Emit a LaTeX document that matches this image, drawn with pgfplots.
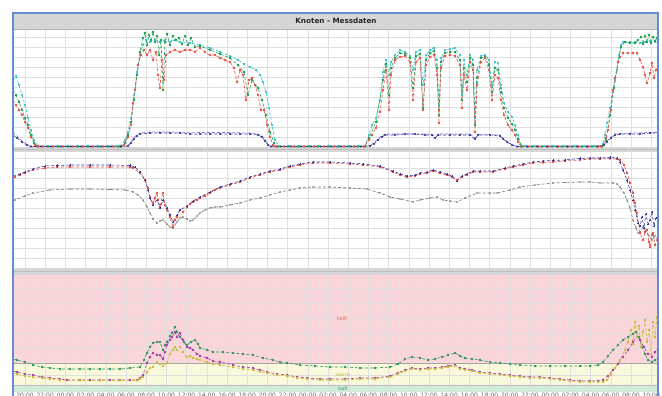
\documentclass[border=0pt]{standalone}
\usepackage{fontspec}
\setmainfont{DejaVu Sans}
\usepackage{pgfplots}
\pgfplotsset{compat=1.18}
\definecolor{cyanS}{RGB}{40,190,200}
\definecolor{redS}{RGB}{232,80,72}
\definecolor{greenS}{RGB}{30,160,80}
\definecolor{navyS}{RGB}{50,50,150}
\definecolor{purpS}{RGB}{150,110,210}
\definecolor{grayS}{RGB}{120,120,120}
\definecolor{tealS}{RGB}{50,150,100}
\definecolor{magS}{RGB}{170,60,170}
\definecolor{oliveS}{RGB}{200,190,60}
\definecolor{pinkB}{RGB}{250,214,218}
\definecolor{yelB}{RGB}{250,249,220}
\definecolor{grnB}{RGB}{208,236,216}
\definecolor{frameB}{RGB}{100,140,210}
\definecolor{barG}{RGB}{214,214,214}
\pgfplotsset{
  panel/.style={scale only axis, width=643pt, anchor=south west,
    xmin=14, xmax=657, ymin=0,
    axis line style={draw=none}, major tick length=0pt,
    xtick={25,45.2,65.4,85.6,105.8,126,146.2,166.4,186.6,206.8,227,247.2,267.4,287.6,307.8,328,348.2,368.4,388.6,408.8,429,449.2,469.4,489.6,509.8,530,550.2,570.4,590.6,610.8,631,651.2},
    xticklabels={}, yticklabels={},
    grid=major, major grid style={black!12, line width=0.5pt}},
  ser/.style={densely dashed, line width=0.6pt, mark=*, mark size=0.85pt, mark options={solid}},
}
\begin{document}
\begin{tikzpicture}[x=1pt,y=1pt]
% frame decorations
\fill[barG] (13,367) rectangle (658,383);
\draw[black!30, line width=0.6pt] (13,367) -- (658,367);
\fill[barG] (13,244) rectangle (658,249);
\draw[black!25, line width=0.5pt] (13,246.5) -- (658,246.5);
\fill[barG] (13,121) rectangle (658,128);
\draw[black!25, line width=0.5pt] (13,124.5) -- (658,124.5);
\node[font=\bfseries\fontsize{7.2}{8}\selectfont, text=black!85] at (336,375) {Knoten - Messdaten};

% ---------------- Panel 1 ----------------
\begin{axis}[panel, at={(14,249)}, height=117pt, ymax=1170, ytick={100,200,...,1100}]
\addplot[ser, cyanS, mark size=0.75pt] coordinates {(13,670)(16,710)(19,620)(22,520)(25,420)(28,290)(31,170)(34,70)(38,10)(48,10)(58,10)(68,10)(78,10)(88,10)(98,10)(108,10)(116,10)(120,10)(125,70)(128,150)(131,290)(134,520)(137,750)(140,920)(143,1020)(146,1070)(150,1050)(155,1070)(160,1050)(165,1070)(170,1050)(175,1070)(180,1050)(190,1040)(200,1020)(210,990)(220,950)(230,910)(238,870)(244,830)(250,800)(256,770)(260,720)(263,650)(266,550)(269,390)(272,220)(275,70)(279,10)(289,10)(299,10)(309,10)(319,10)(329,10)(339,10)(349,10)(359,10)(365,10)(369,120)(372,220)(376,290)(380,470)(383,750)(386,870)(389,720)(391,850)(395,920)(400,970)(405,950)(410,910)(413,770)(416,950)(420,970)(423,620)(426,920)(430,970)(434,990)(437,870)(439,420)(441,890)(445,970)(450,980)(455,990)(460,920)(462,520)(464,870)(467,720)(470,920)(473,870)(475,290)(477,770)(481,910)(485,920)(489,870)(492,620)(495,850)(498,840)(501,620)(504,440)(508,350)(512,300)(515,220)(518,120)(521,20)(524,10)(534,10)(544,10)(554,10)(564,10)(574,10)(584,10)(594,10)(600,10)(603,30)(605,120)(607,240)(610,390)(612,500)(615,670)(617,770)(619,920)(621,1020)(623,1050)(630,1050)(635,1050)(640,1040)(645,1050)(650,1060)(655,1050)(658,1050)};
\addplot[ser, greenS] coordinates {(13,570)(16,520)(19,450)(22,370)(25,290)(28,220)(31,120)(34,40)(38,5)(48,5)(58,5)(68,5)(78,5)(88,5)(98,5)(108,5)(118,5)(121,5)(125,40)(128,120)(131,250)(134,470)(137,720)(140,950)(143,1090)(145,1140)(147,1020)(149,1120)(151,1070)(153,1150)(155,1050)(157,1110)(159,920)(161,1070)(163,570)(165,1050)(167,1130)(170,1020)(173,1110)(176,1070)(179,1090)(182,1030)(185,1110)(188,1020)(191,1090)(195,1000)(200,1010)(210,970)(220,930)(230,890)(238,820)(244,750)(248,520)(252,670)(258,590)(262,470)(266,320)(270,150)(274,40)(278,5)(288,5)(298,5)(308,5)(318,5)(328,5)(338,5)(348,5)(358,5)(365,5)(369,90)(376,250)(383,670)(386,830)(389,520)(391,790)(395,890)(400,940)(405,930)(410,890)(413,590)(416,910)(420,930)(423,390)(426,870)(430,940)(434,960)(437,790)(439,320)(441,850)(445,940)(450,950)(455,950)(460,870)(462,470)(464,790)(467,650)(470,890)(473,820)(475,220)(477,690)(481,890)(485,900)(489,820)(492,550)(495,790)(498,770)(501,550)(504,390)(508,290)(512,230)(515,170)(518,80)(522,5)(532,5)(542,5)(552,5)(562,5)(572,5)(582,5)(592,5)(602,5)(606,70)(610,320)(614,590)(618,850)(621,1000)(625,1050)(630,1040)(635,1040)(638,1070)(641,1100)(643,1030)(645,1110)(647,1050)(649,1120)(651,1040)(653,1100)(655,1060)(657,1090)};
\addplot[ser, redS, mark size=1pt] coordinates {(13,470)(16,420)(19,370)(22,320)(25,250)(28,190)(31,100)(35,20)(38,5)(43,5)(53,5)(63,5)(73,5)(83,5)(93,5)(103,5)(113,5)(120,5)(124,20)(128,100)(131,220)(133,440)(135,570)(138,820)(141,920)(144,970)(147,920)(150,970)(153,870)(156,950)(158,720)(160,590)(162,870)(164,670)(166,920)(170,950)(175,970)(180,950)(185,970)(190,970)(195,950)(200,990)(205,950)(210,920)(215,920)(220,890)(225,870)(230,850)(234,790)(237,650)(240,770)(243,720)(246,470)(249,670)(252,690)(255,620)(258,520)(261,370)(264,370)(267,220)(270,100)(273,20)(276,5)(284,5)(294,5)(304,5)(314,5)(324,5)(334,5)(344,5)(354,5)(364,5)(369,70)(372,120)(376,190)(380,350)(383,570)(386,770)(389,370)(391,720)(395,870)(400,900)(405,910)(410,850)(413,470)(416,850)(420,890)(423,370)(426,820)(430,900)(434,920)(437,720)(439,240)(441,790)(445,910)(450,920)(455,910)(460,820)(462,390)(464,720)(467,570)(470,850)(473,770)(475,150)(477,620)(481,850)(485,890)(489,770)(492,470)(495,720)(498,690)(501,470)(504,320)(508,220)(512,170)(515,120)(518,50)(521,5)(528,5)(538,5)(548,5)(558,5)(568,5)(578,5)(588,5)(598,5)(601,5)(604,20)(606,90)(608,170)(611,370)(613,570)(615,690)(618,850)(620,900)(623,940)(628,940)(633,940)(637,940)(640,870)(643,800)(645,720)(647,640)(650,740)(652,840)(654,690)(656,770)(658,820)};
\addplot[densely dashed, line width=0.6pt, purpS] coordinates {(13,150)(17,110)(22,60)(27,25)(31,5)(121,5)(128,15)(131,55)(134,95)(137,125)(140,140)(150,150)(170,150)(200,145)(230,145)(250,140)(258,130)(262,110)(265,70)(268,25)(271,5)(365,5)(370,15)(374,40)(378,85)(382,115)(385,130)(400,130)(420,130)(432,130)(435,100)(440,130)(470,130)(475,90)(480,130)(500,120)(503,90)(507,55)(512,25)(517,5)(600,5)(604,25)(607,60)(611,100)(615,130)(630,140)(658,145)};
\addplot[ser, navyS, mark size=0.75pt] coordinates {(13,120)(17,90)(22,50)(27,20)(31,5)(41,5)(51,5)(61,5)(71,5)(81,5)(91,5)(101,5)(111,5)(121,5)(128,10)(131,40)(134,80)(137,110)(140,130)(150,140)(160,140)(170,140)(180,140)(190,130)(200,130)(210,130)(220,130)(230,130)(240,130)(250,130)(258,120)(262,100)(265,60)(268,20)(271,5)(281,5)(291,5)(301,5)(311,5)(321,5)(331,5)(341,5)(351,5)(361,5)(370,10)(374,30)(378,70)(382,100)(385,120)(395,120)(405,130)(415,130)(425,120)(432,120)(435,90)(438,120)(450,120)(460,120)(470,120)(475,80)(478,120)(490,120)(500,110)(503,80)(507,50)(512,20)(517,5)(527,5)(537,5)(547,5)(557,5)(567,5)(577,5)(587,5)(597,5)(604,20)(607,50)(611,90)(615,120)(620,130)(630,130)(640,130)(650,140)(658,140)};
\end{axis}

% ---------------- Panel 2 ----------------
\begin{axis}[panel, at={(14,128)}, height=116pt, ymax=116, ytick={10,20,...,110}]
\addplot[densely dashed, line width=0.6pt, grayS, mark=*, mark size=0.35pt, mark options={solid}] coordinates {(13,67)(15,68)(25,72)(33,75)(50,78)(70,79)(90,79)(110,78.5)(125,78)(133,76)(138,73)(143,68)(147,61)(150,55)(153,49)(157,45)(160,47)(163,48)(167,44)(170,41)(173,40)(177,46)(180,50)(183,51)(187,49)(190,47)(193,48)(197,52)(200,55)(205,58)(210,60)(215,61)(220,61)(230,63)(240,65)(250,68)(260,70)(270,73)(280,76)(290,78)(300,80)(313,81)(330,81)(350,80)(367,79)(380,75)(390,71)(400,69)(413,66)(420,68)(430,70)(437,71)(443,68)(450,67)(457,66)(465,70)(477,75)(490,75)(497,75)(510,78)(520,81)(535,83)(553,85)(565,85.5)(580,86)(590,86)(600,85)(613,85)(617,84)(620,81)(624,75)(627,68)(630,60)(633,48)(636,40)(638,35)(640,36)(643,41)(646,37)(649,32)(652,28)(655,32)(658,30)};
\addplot[ser, redS] coordinates {(13,90)(15,91)(20,93)(25,95)(33,98)(45,100)(57,101)(70,101)(90,101)(110,101)(130,101)(133,100)(140,95)(145,88)(148,80)(150,71)(153,65)(155,70)(157,75)(160,61)(163,75)(165,63)(167,58)(170,51)(173,41)(175,48)(177,51)(180,58)(183,56)(187,61)(190,64)(193,66)(197,68)(200,70)(205,72)(210,75)(215,78)(220,80)(230,83)(240,86)(250,90)(260,93)(270,96)(280,98)(290,101)(300,103)(313,105)(330,105)(350,104)(363,103)(380,101)(393,96)(400,93)(407,91)(415,92)(420,94)(427,95)(433,97)(440,95)(447,93)(452,91)(457,88)(462,91)(467,93)(473,96)(480,96)(493,96)(505,99)(513,101)(523,103)(533,105)(543,105.5)(553,106)(565,107)(580,108)(590,109)(600,109)(610,109.5)(617,109)(620,108)(624,103)(627,95)(630,85)(633,75)(635,65)(637,55)(640,35)(643,28)(645,36)(647,38)(649,26)(650,21)(652,33)(653,35)(655,23)(657,28)(658,32)};
\addplot[densely dashed, line width=0.55pt, navyS, mark=+, mark size=1.1pt, mark options={solid}] coordinates {(13,92)(20,94)(25,96)(33,99)(45,102)(57,102.5)(70,103)(90,103)(110,103)(130,102.5)(135,101)(140,96)(145,88)(148,78)(150,70)(153,63)(157,68)(160,60)(163,68)(167,60)(170,53)(173,46)(177,53)(180,58)(187,62)(193,67)(200,71)(210,76)(220,81)(230,84)(240,87)(250,91)(260,94)(270,97)(280,99)(290,102)(300,104)(313,106)(330,106)(350,105)(363,104)(380,102)(393,97)(400,94)(407,92)(415,93)(420,95)(427,96)(433,98)(440,96)(447,94)(452,92)(457,87)(462,92)(467,94)(473,97)(480,97)(493,97)(505,100)(513,102)(523,104)(533,106)(543,107)(553,107.5)(565,108)(580,109.5)(590,110)(600,110)(610,110.5)(617,110)(620,106)(623,98)(627,88)(630,78)(633,68)(635,58)(638,45)(640,42)(642,51)(644,40)(646,54)(648,44)(650,48)(652,56)(654,42)(656,50)(658,46)};
\end{axis}

% ---------------- Panel 3 ----------------
\begin{axis}[panel, at={(14,4)}, height=117pt, ymax=117, ytick={7,17,29,44,59,74,89,104},
  set layers,
  xticklabels={20:00,22:00,00:00,02:00,04:00,06:00,08:00,10:00,12:00,14:00,16:00,18:00,20:00,22:00,00:00,02:00,04:00,06:00,08:00,10:00,12:00,14:00,16:00,18:00,20:00,22:00,00:00,02:00,04:00,06:00,08:00,10:00},
  xticklabel style={font=\fontsize{6}{7}\selectfont, text=black!60, inner sep=0pt, anchor=north, yshift=-1pt},
  major grid style={black!12, line width=0.5pt}]
\addplot[fill=pinkB, draw=none, on layer=axis background] coordinates {(14,29)(657,29)(657,117)(14,117)(14,29)};
\addplot[fill=yelB, draw=none, on layer=axis background] coordinates {(14,7)(657,7)(657,29)(14,29)(14,7)};
\addplot[fill=grnB, draw=none, on layer=axis background] coordinates {(14,0)(657,0)(657,7)(14,7)(14,0)};
\addplot[black!35, line width=0.6pt] coordinates {(14,29)(657,29)};
\addplot[black!25, line width=0.5pt] coordinates {(14,7)(657,7)};
\node[font=\fontsize{5}{6}\selectfont, text=redS!85] at (axis cs:342,73) {heiß};
\node[font=\fontsize{5}{6}\selectfont, text=oliveS] at (axis cs:343,17) {warm};
\node[font=\fontsize{5}{6}\selectfont, text=tealS] at (axis cs:343,3.2) {kalt};
\addplot[ser, tealS] coordinates {(13,33)(17,32)(25,30)(33,27)(42,25)(50,24)(60,23)(70,23)(80,23)(90,23)(100,23)(110,23)(120,23)(130,24)(140,25)(144,32)(147,39)(150,45)(153,49)(157,50)(160,50)(163,42)(165,47)(167,50)(170,56)(172,59)(175,65)(177,60)(180,55)(184,50)(187,47)(191,50)(195,52)(198,48)(200,44)(207,42)(213,40)(223,40)(233,39)(243,38)(253,37)(263,34)(273,32)(280,30)(287,29)(300,27)(315,26)(330,25)(345,25)(360,24)(375,24)(390,25)(398,28)(405,33)(412,35)(420,34)(428,32)(435,33)(442,35)(448,37)(455,39)(460,36)(465,34)(472,33)(480,32)(490,30)(500,29)(510,28)(520,27)(535,26)(550,26)(565,26)(580,26)(590,26)(598,27)(603,30)(608,36)(613,42)(618,47)(623,52)(628,55)(633,58)(636,60)(639,55)(642,45)(645,38)(648,32)(652,30)(655,32)(658,34)};
\addplot[ser, magS] coordinates {(13,21)(17,20)(25,18)(33,17)(42,15)(50,14)(60,13)(67,12)(80,12)(90,12)(100,12)(110,12)(120,12)(130,12)(137,12)(140,14)(143,17)(147,29)(150,35)(153,39)(157,37)(160,37)(163,33)(165,40)(167,47)(170,52)(172,55)(175,60)(177,55)(180,59)(183,52)(187,45)(190,44)(193,42)(197,38)(200,36)(207,34)(213,31)(220,30)(233,27)(243,25)(253,24)(260,22)(267,20)(277,18)(287,17)(297,15)(307,14)(320,13)(330,13)(345,13)(360,14)(375,14)(390,16)(398,19)(405,22)(412,24)(420,23)(428,24)(435,24)(442,25)(448,26)(455,27)(460,24)(465,23)(472,22)(480,20)(490,19)(500,18)(510,17)(520,16)(530,15)(540,15)(550,14)(560,13)(570,12)(580,11)(590,11)(598,11)(603,12)(608,16)(613,22)(618,28)(623,35)(628,42)(633,50)(637,55)(640,52)(644,45)(648,38)(652,35)(655,40)(658,44)};
\addplot[ser, oliveS] coordinates {(13,19)(17,18)(25,16)(33,15)(42,14)(50,13)(60,12)(80,11.5)(100,11.5)(120,11.5)(137,11.5)(140,13)(143,15)(147,20)(150,24)(153,25)(157,30)(160,28)(163,26)(167,29)(170,38)(173,42)(175,45)(177,42)(180,45)(183,40)(187,35)(190,36)(193,34)(197,33)(200,32)(207,30)(213,28)(220,27)(233,25)(243,23)(253,22)(260,20.5)(267,19)(277,17)(287,16)(297,14)(307,13)(320,12)(330,12)(345,12)(360,13)(375,13)(390,15)(398,18)(405,21)(412,23)(420,22)(428,23)(435,23)(442,24)(448,25)(455,26)(460,23)(465,22)(472,21)(480,19)(490,18)(500,17)(510,16)(520,15)(530,14)(540,14)(550,13)(560,12)(570,11)(580,10)(590,10)(598,10)(603,10)(607,12)(611,17)(615,24)(620,32)(625,42)(628,50)(631,62)(633,48)(635,70)(637,55)(639,66)(641,45)(643,60)(645,72)(647,50)(649,62)(651,38)(653,70)(655,55)(657,75)(658,62)};
\end{axis}

% outer blue frame
\draw[frameB, line width=2.2pt] (13,0) -- (13,383) -- (658,383) -- (658,0);
\pgfresetboundingbox
\useasboundingbox (0,0) rectangle (662,396);
\end{tikzpicture}
\end{document}
